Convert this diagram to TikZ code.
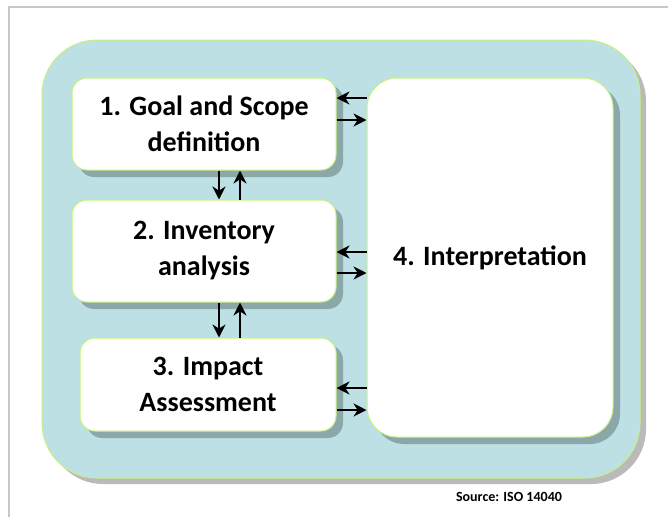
\documentclass[tikz,border=0pt]{standalone}
\usepackage{fontspec}
\setmainfont{Carlito}
\usetikzlibrary{shadows,arrows.meta}

\definecolor{lcablue}{RGB}{188,224,228}
\definecolor{lcaedge}{RGB}{200,240,130}
\definecolor{framegray}{RGB}{200,200,200}

\tikzset{
  shade7/.style={general shadow={fill=black,opacity=.25,shadow xshift=7pt,shadow yshift=-7pt}},
  phase/.style={rectangle,draw=lcaedge,line width=1pt,fill=white,rounded corners=15pt,
    align=center,font=\bfseries\fontsize{28}{36}\selectfont,inner sep=0pt,shade7},
  arr/.style={line width=2.4pt,-{Stealth[length=13pt,width=13pt]}}
}

\begin{document}
\begin{tikzpicture}[x=1pt,y=-1pt]
\useasboundingbox (0,0) rectangle (668,517);
% page frame
\draw[framegray,line width=1.2pt] (668,7)--(9,7)--(9,517);
% background panel
\path (341,259) node(panel)[rectangle,draw=lcaedge,line width=1pt,fill=lcablue,rounded corners=55pt,
  minimum width=598pt,minimum height=438pt,general shadow={fill=black,opacity=.27,shadow xshift=6pt,shadow yshift=-6pt}]{};
% phases
\path (204,124) node(goal)[phase,minimum width=264pt,minimum height=92pt]{1. Goal and Scope\\definition}
(204,251) node(inv)[phase,minimum width=264pt,minimum height=102pt]{2. Inventory\\analysis}
(208,384.5) node(imp)[phase,minimum width=256pt,minimum height=93pt]{3. Impact\\Assessment}
(490,257.5) node(interp)[phase,rounded corners=30pt,minimum width=246pt,minimum height=359pt]{4. Interpretation};
% arrows
\draw[arr](interp.west |- 0,98)--(goal.east |- 0,98);
\draw[arr](goal.east |- 0,120)--(interp.west |- 0,120);
\draw[arr](interp.west |- 0,252)--(inv.east |- 0,252);
\draw[arr](inv.east |- 0,273)--(interp.west |- 0,273);
\draw[arr](interp.west |- 0,388)--(imp.east |- 0,388);
\draw[arr](imp.east |- 0,410)--(interp.west |- 0,410);
\draw[arr](goal.south -| 219,0)--(inv.north -| 219,0);
\draw[arr](inv.north -| 240,0)--(goal.south -| 240,0);
\draw[arr](inv.south -| 219,0)--(imp.north -| 219,0);
\draw[arr](imp.north -| 240,0)--(inv.south -| 240,0);
\path (509,497) node(src)[font=\bfseries\fontsize{14}{16}\selectfont]{Source: ISO 14040};
\end{tikzpicture}
\end{document}
